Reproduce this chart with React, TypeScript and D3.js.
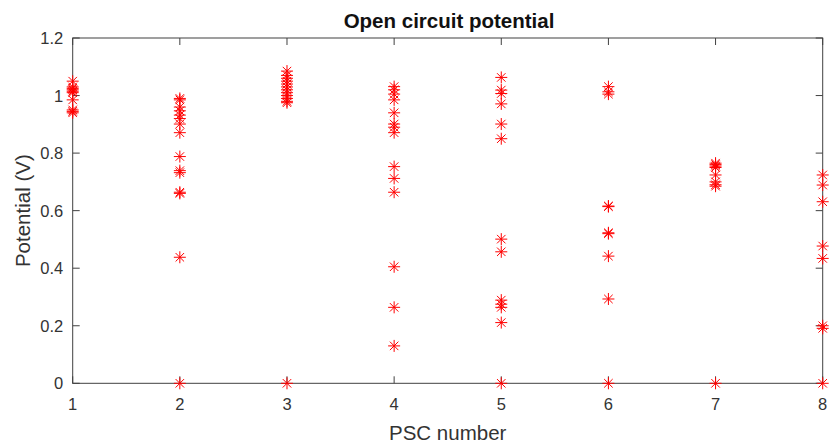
import React from "react";
import * as d3 from "d3";

const psc1 = [1.05, 1.03, 1.025, 1.02, 1.015, 1.01, 0.985, 0.95, 0.945, 0.94];
const psc2 = [0.99, 0.985, 0.96, 0.947, 0.932, 0.92, 0.901, 0.871, 0.788, 0.739, 0.732, 0.664, 0.66, 0.438, 0];
const psc3 = [1.085, 1.07, 1.06, 1.05, 1.04, 1.03, 1.02, 1.01, 1.0, 0.99, 0.98, 0.975, 0];
const psc4 = [1.031, 1.02, 1.005, 0.985, 0.94, 0.901, 0.89, 0.871, 0.753, 0.712, 0.664, 0.405, 0.264, 0.13];
const psc5 = [1.063, 1.019, 1.007, 0.971, 0.901, 0.85, 0.501, 0.457, 0.289, 0.275, 0.264, 0.211, 0];
const psc6 = [1.031, 1.013, 1.005, 0.616, 0.614, 0.523, 0.52, 0.442, 0.293, 0];
const psc7 = [0.765, 0.76, 0.755, 0.75, 0.724, 0.7, 0.69, 0.685, 0];
const psc8 = [0.724, 0.689, 0.631, 0.477, 0.434, 0.2, 0.191, 0];

const groups = [psc1, psc2, psc3, psc4, psc5, psc6, psc7, psc8];
const xTicks = [1, 2, 3, 4, 5, 6, 7, 8];
const yTicks = [0, 0.2, 0.4, 0.6, 0.8, 1.0, 1.2];
const yTickLabels = ["0", "0.2", "0.4", "0.6", "0.8", "1", "1.2"];

const W = 829, H = 446;
const L = 72.7, R = 822.7, T = 38, B = 383.3;
const axisColor = "#404040";
const textColor = "#333333";
const font = "'Liberation Sans', Arial, Helvetica, sans-serif";

export default function App() {
  const x = d3.scaleLinear().domain([1, 8]).range([L, R]);
  const y = d3.scaleLinear().domain([0, 1.2]).range([B, T]);
  const tl = 7;
  const s = 6;
  const d = s * 0.7071;
  const star = (cx: number, cy: number) =>
    `M${cx - s},${cy}L${cx + s},${cy}M${cx},${cy - s}L${cx},${cy + s}` +
    `M${cx - d},${cy - d}L${cx + d},${cy + d}M${cx - d},${cy + d}L${cx + d},${cy - d}`;
  const pts: { g: number; v: number }[] = [];
  groups.forEach((arr, i) => arr.forEach((v) => pts.push({ g: xTicks[i], v })));

  return (
    <svg width={W} height={H} style={{ position: "absolute", left: 0, top: 0, background: "#fff" }}>
      <rect x={0} y={0} width={W} height={H} fill="#fff" />
      {xTicks.map((t) => (
        <g key={"xt" + t}>
          <line x1={x(t)} x2={x(t)} y1={B} y2={B - tl} stroke={axisColor} strokeWidth={1} />
          <line x1={x(t)} x2={x(t)} y1={T} y2={T + tl} stroke={axisColor} strokeWidth={1} />
          <text x={x(t)} y={B + 27} textAnchor="middle" fontFamily={font} fontSize={16.5} fill={textColor}>
            {t}
          </text>
        </g>
      ))}
      {yTicks.map((t, i) => (
        <g key={"yt" + t}>
          <line x1={L} x2={L + tl} y1={y(t)} y2={y(t)} stroke={axisColor} strokeWidth={1} />
          <line x1={R} x2={R - tl} y1={y(t)} y2={y(t)} stroke={axisColor} strokeWidth={1} />
          <text x={L - 9.5} y={y(t) + 6} textAnchor="end" fontFamily={font} fontSize={16.5} fill={textColor}>
            {yTickLabels[i]}
          </text>
        </g>
      ))}
      <rect x={L} y={T} width={R - L} height={B - T} fill="none" stroke={axisColor} strokeWidth={1} />
      <path
        d={pts.map((p) => star(x(p.g), y(p.v))).join("")}
        stroke="#ff0000"
        strokeWidth={1}
        fill="none"
      />
      <text x={449} y={27.5} textAnchor="middle" fontFamily={font} fontSize={20.5} fontWeight="bold" fill="#111">
        Open circuit potential
      </text>
      <text x={(L + R) / 2} y={440} textAnchor="middle" fontFamily={font} fontSize={20.5} fill={textColor}>
        PSC number
      </text>
      <text
        transform={`translate(30,${(T + B) / 2}) rotate(-90)`}
        textAnchor="middle"
        fontFamily={font}
        fontSize={20.5}
        fill={textColor}
      >
        Potential (V)
      </text>
    </svg>
  );
}
